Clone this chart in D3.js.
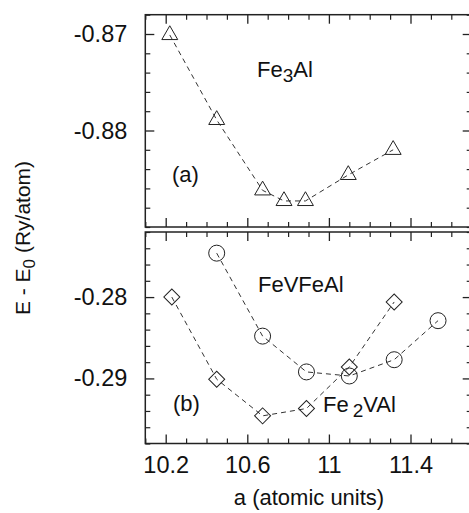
<!DOCTYPE html>
<html>
<head>
<meta charset="utf-8">
<title>E - E0 vs lattice constant</title>
<script src="https://d3js.org/d3.v7.min.js"></script>
<style>
  body { margin:0; background:#fff; }
  text { font-family: "Liberation Sans", Arial, Helvetica, sans-serif; fill:#111; }
</style>
</head>
<body>
<script>
// lattice constant a (atomic units) and E - E0 (Ry/atom)
const aFe3Al   = [10.22, 10.45, 10.675, 10.78, 10.885, 11.095, 11.315];
const eFe3Al   = [-0.8701, -0.8789, -0.8862, -0.8873, -0.8873, -0.8846, -0.8820];
const aFeVFeAl = [10.45, 10.675, 10.89, 11.10, 11.32, 11.535];
const eFeVFeAl = [-0.2746, -0.2848, -0.2892, -0.2897, -0.2877, -0.2829];
const aFe2VAl  = [10.23, 10.45, 10.675, 10.89, 11.10, 11.32];
const eFe2VAl  = [-0.2800, -0.2901, -0.2946, -0.2937, -0.2886, -0.2806];

const xTicks  = [10.2, 10.6, 11, 11.4];
const yTicksA = [-0.87, -0.88];
const yTicksB = [-0.28, -0.29];

const W = 469, H = 513;
const svg = d3.select('body').append('svg')
  .attr('width', W).attr('height', H)
  .style('display', 'block');

const x = d3.scaleLinear().domain([10.1, 11.7]).range([145.3, 471.7]);
const yA = d3.scaleLinear().domain([-0.89, -0.868]).range([227, 14.7]);
const yB = d3.scaleLinear().domain([-0.298, -0.272]).range([443.5, 232]);

const xMinor = d3.range(10.1, 11.71, 0.1).map(v => +v.toFixed(2))
  .filter(v => !xTicks.some(t => Math.abs(t - v) < 1e-6));

function minorY(dom, major) {
  return d3.range(dom[0], dom[1] + 1e-6, 0.002).map(v => +v.toFixed(3))
    .filter(v => !major.some(t => Math.abs(t - v) < 1e-6));
}

const fmtY = d => d.toFixed(2);
const fmtX = d => (d === 11 ? '11' : d.toFixed(1));

// draws frame + inward ticks on all four sides
function panel(y, yMajor, showX) {
  const [x0, x1] = x.range();
  const [yb, yt] = y.range();
  const g = svg.append('g');

  const sides = [
    [d3.axisBottom(x), yb, 'x'],
    [d3.axisTop(x), yt, 'x'],
    [d3.axisLeft(y), x0, 'y'],
    [d3.axisRight(y), x1, 'y']
  ];
  sides.forEach(([ax, pos, dim], i) => {
    const major = dim === 'x' ? xTicks : yMajor;
    const minor = dim === 'x' ? xMinor : minorY(y.domain(), yMajor);
    const tr = dim === 'x' ? `translate(0,${pos})` : `translate(${pos},0)`;
    const labels = (dim === 'x' && i === 0 && showX) || (dim === 'y' && i === 2);

    const gMaj = g.append('g').attr('transform', tr)
      .call(ax.tickValues(major).tickSize(-9).tickSizeOuter(0)
        .tickPadding(dim === 'x' ? 13 : 18)
        .tickFormat(labels ? (dim === 'x' ? fmtX : fmtY) : ''));
    gMaj.select('.domain').remove();
    gMaj.selectAll('line').attr('stroke', '#222').attr('stroke-width', 1.3);
    gMaj.selectAll('text').style('font-size', '23.5px').attr('fill', '#111');

    const gMin = g.append('g').attr('transform', tr)
      .call(ax.tickValues(minor).tickSize(-5).tickFormat(''));
    gMin.select('.domain').remove();
    gMin.selectAll('line').attr('stroke', '#222').attr('stroke-width', 1.2);
  });

  g.append('rect')
    .attr('x', x0).attr('y', yt)
    .attr('width', x1 - x0).attr('height', yb - yt)
    .attr('fill', 'none').attr('stroke', '#222').attr('stroke-width', 1.5);
}

function series(y, xs, ys, symType, size, rot) {
  const pts = xs.map((v, i) => [v, ys[i]]);
  svg.append('path')
    .datum(pts)
    .attr('d', d3.line().x(d => x(d[0])).y(d => y(d[1])))
    .attr('fill', 'none')
    .attr('stroke', '#333')
    .attr('stroke-width', 1)
    .attr('stroke-dasharray', '5,4');
  svg.append('g').selectAll('path')
    .data(pts).enter()
    .append('path')
    .attr('d', d3.symbol().type(symType).size(size))
    .attr('transform', d => `translate(${x(d[0])},${y(d[1])}) rotate(${rot})`)
    .attr('fill', 'none')
    .attr('stroke', '#222')
    .attr('stroke-width', 1);
}

panel(yA, yTicksA, false);
panel(yB, yTicksB, true);

series(yA, aFe3Al, eFe3Al, d3.symbolTriangle, 110, 0);
series(yB, aFeVFeAl, eFeVFeAl, d3.symbolCircle, 201, 0);
series(yB, aFe2VAl, eFe2VAl, d3.symbolSquare, 128, 45);

// labels inside the panels
const lab = (px, py) => svg.append('text')
  .attr('x', px).attr('y', py).style('font-size', '22px');

const t1 = lab(257, 77);
t1.append('tspan').text('Fe');
t1.append('tspan').text('3').attr('dy', 5).style('font-size', '19px');
t1.append('tspan').text('Al').attr('dy', -5);

lab(172, 182).text('(a)');
lab(258, 292).text('FeVFeAl');
lab(173, 411).text('(b)');

const t2 = lab(323, 411.5);
t2.append('tspan').text('Fe');
t2.append('tspan').text('2').attr('dx', 4).attr('dy', 5).style('font-size', '19px');
t2.append('tspan').text('VAl').attr('dy', -5);

// axis titles
const yt = svg.append('text')
  .attr('transform', 'translate(30,238) rotate(-90)')
  .attr('text-anchor', 'middle')
  .style('font-size', '21px');
yt.append('tspan').text('E - E');
yt.append('tspan').text('0').attr('dy', 5).style('font-size', '17px');
yt.append('tspan').text(' (Ry/atom)').attr('dy', -5);

svg.append('text')
  .attr('x', 309).attr('y', 505)
  .attr('text-anchor', 'middle')
  .style('font-size', '22px')
  .text('a (atomic units)');
</script>
</body>
</html>
